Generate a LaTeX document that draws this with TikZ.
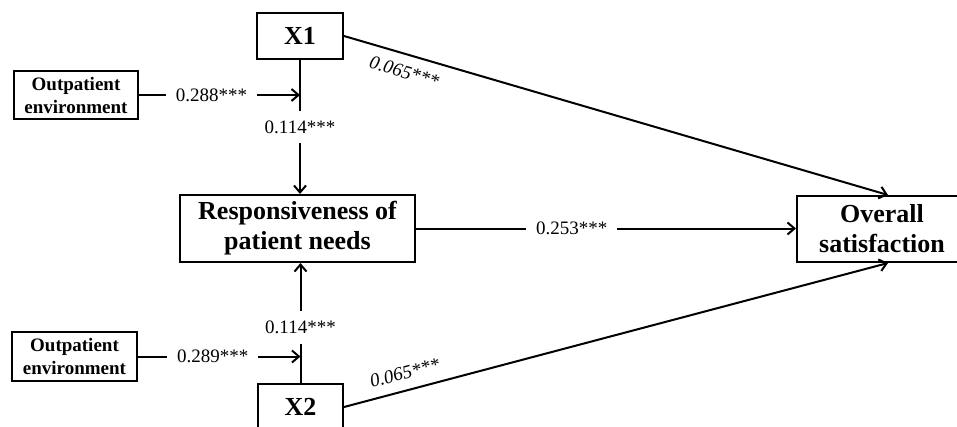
\documentclass[tikz,border=0pt]{standalone}
\usepackage{fontspec}
\setmainfont{Liberation Serif}
\usepackage{tikz}
\usetikzlibrary{positioning,arrows.meta}

\begin{document}
\begin{tikzpicture}[x=1pt, y=-1pt, line width=2pt,
  bigbox/.style={draw, align=center, inner sep=0pt, font=\fontsize{26}{30}\selectfont\bfseries},
  envbox/.style={draw, align=center, inner sep=0pt, font=\fontsize{19}{23}\selectfont\bfseries},
  coef/.style={fill=white, inner sep=10pt, font=\fontsize{19}{23}\selectfont},
  slopecoef/.style={sloped, inner sep=2pt, font=\fontsize{19}{23}\selectfont\itshape},
  link/.style={-{Straight Barb[length=7pt,width=12pt]}}]
  \clip (0,0) rectangle (957,426);

  % Boxes
  \node[bigbox, minimum width=86pt, minimum height=46pt] (x1) at (300,36) {X1};
  \node[bigbox, minimum width=85pt, minimum height=46pt] (x2) at (300.5,407) {X2};
  \node[bigbox, minimum width=235pt, minimum height=67pt] (resp) at (297.5,228.5) {Responsiveness of\\patient needs};
  \node[bigbox, minimum width=170pt, minimum height=66pt] (overall) at (882,229) {Overall\\satisfaction};
  \node[envbox, minimum width=124pt, minimum height=48pt] (env1) at (76,95) {Outpatient\\environment};
  \node[envbox, minimum width=125pt, minimum height=49pt] (env2) at (74.5,356.5) {Outpatient\\environment};

  % Moderation points
  \coordinate (m1) at (x1.south |- env1.east);
  \coordinate (m2) at (x2.north |- env2.east);

  % Paths into responsiveness
  \draw[link] (x1.south) -- node[coef, pos=0.5] {0.114***} (x1.south |- resp.north);
  \draw[link] (x2.north) -- node[coef, pos=0.46] {0.114***} (x2.north |- resp.south);
  \draw[link] (env1.east) -- node[coef, pos=0.45] {0.288***} (m1);
  \draw[link] (env2.east) -- node[coef, pos=0.46] {0.289***} (m2);

  % Paths into overall satisfaction
  \draw[link] (resp.east) -- node[coef, pos=0.41] {0.253***} (resp.east -| overall.west);
  \draw[link] (x1.east) -- node[slopecoef, below=8pt, pos=0.12] {0.065***} ([xshift=6pt]overall.north);
  \draw[link] (x2.east) -- node[slopecoef, above=8pt, pos=0.12] {0.065***} ([xshift=6pt]overall.south);
\end{tikzpicture}
\end{document}
